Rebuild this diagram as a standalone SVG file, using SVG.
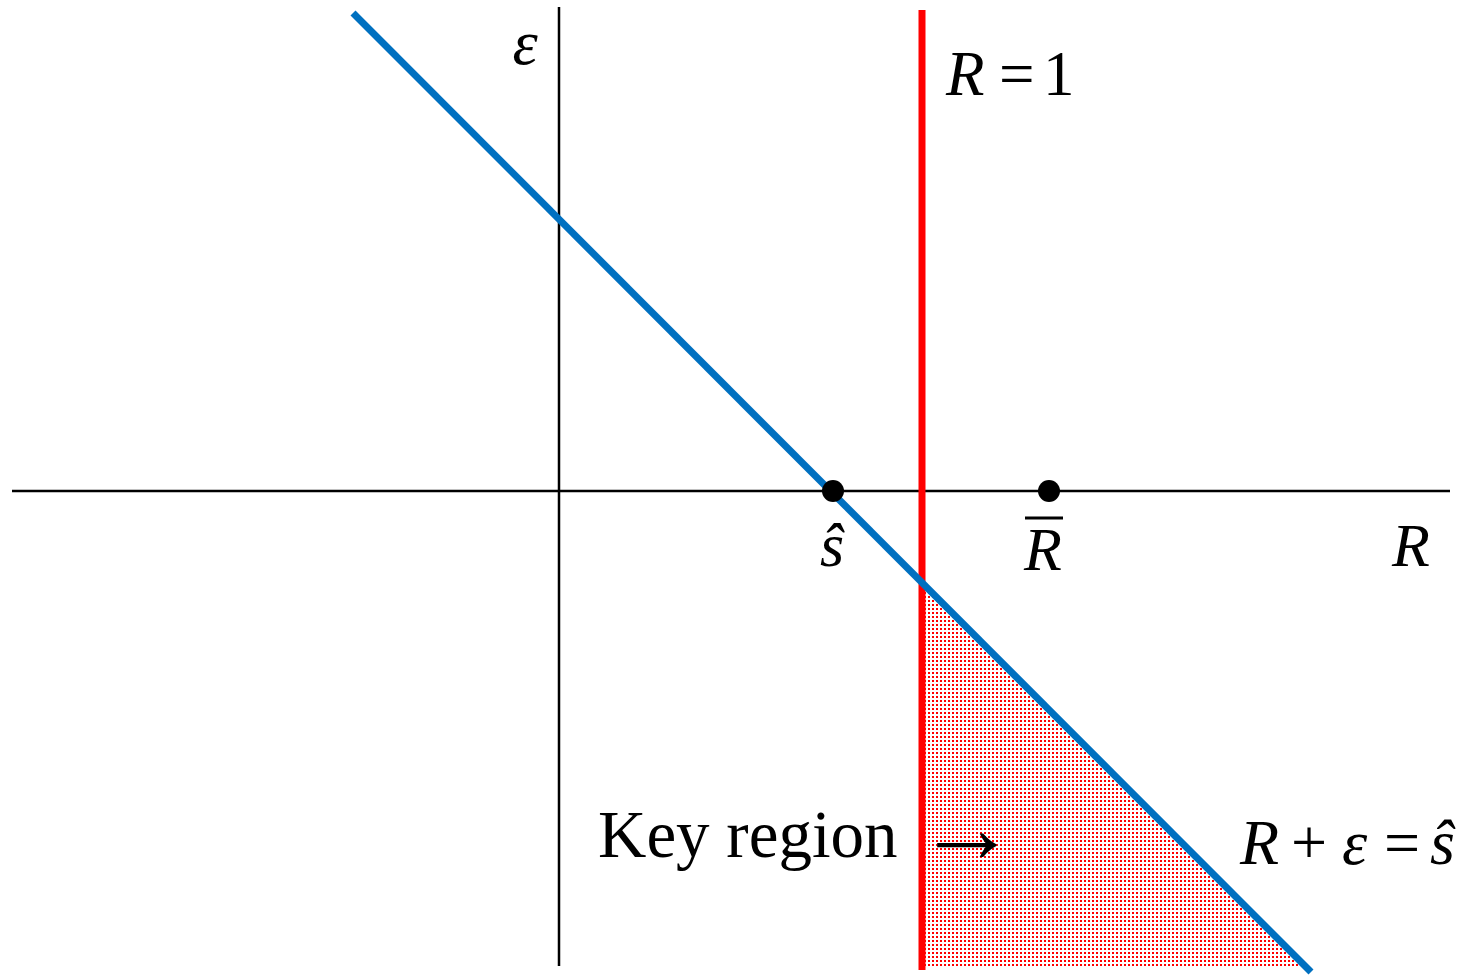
<svg xmlns="http://www.w3.org/2000/svg" width="1476" height="977" viewBox="0 0 1476 977">
<style>
.t{font-family:"Liberation Serif","Times New Roman",serif;fill:#000}
.i{font-style:italic}
.ax{stroke:#000;stroke-width:2.5;fill:none}
</style>
<defs>
<pattern id="dots" width="4" height="4" patternUnits="userSpaceOnUse">
<rect x="0" y="0" width="2" height="2" fill="#ff0000"/>
</pattern>
</defs>
<rect width="1476" height="977" fill="#fff"/>
<g id="region">
<polygon points="922,583 922,967 1306,967" fill="url(#dots)"/>
</g>
<g id="connectors">
<line class="ax" x1="12" y1="491" x2="1450" y2="491"/>
<line class="ax" x1="559" y1="7" x2="559" y2="966"/>
<line x1="922" y1="10" x2="922" y2="970" stroke="#ff0000" stroke-width="7"/>
<line x1="353" y1="13" x2="1311" y2="972" stroke="#0070c0" stroke-width="7"/>
</g>
<g id="s-hat-point">
<circle cx="833" cy="491" r="11" fill="#000"/>
<text class="t i" x="820" y="566" font-size="62">ŝ</text>
</g>
<g id="r-bar-point">
<circle cx="1049" cy="491" r="11" fill="#000"/>
<line x1="1025" y1="518" x2="1063" y2="518" stroke="#000" stroke-width="3"/>
<text class="t i" x="1043" y="570" font-size="62" text-anchor="middle">R</text>
</g>
<g id="labels">
<text class="t i" x="525" y="64" font-size="64" text-anchor="middle">ε</text>
<text class="t" font-size="63" y="95"><tspan class="i" x="946">R</tspan><tspan x="999">=</tspan><tspan x="1043">1</tspan></text>
<text class="t i" x="1411" y="566" font-size="62" text-anchor="middle">R</text>
<text class="t" x="598" y="857" font-size="67">Key region</text>
<text class="t" x="917" y="862" font-size="100">→</text>
<text class="t" font-size="64" y="864"><tspan class="i" x="1240">R</tspan><tspan x="1291">+</tspan><tspan class="i" x="1342">ε</tspan><tspan x="1384">=</tspan><tspan class="i" x="1430">ŝ</tspan></text>
</g>
</svg>
